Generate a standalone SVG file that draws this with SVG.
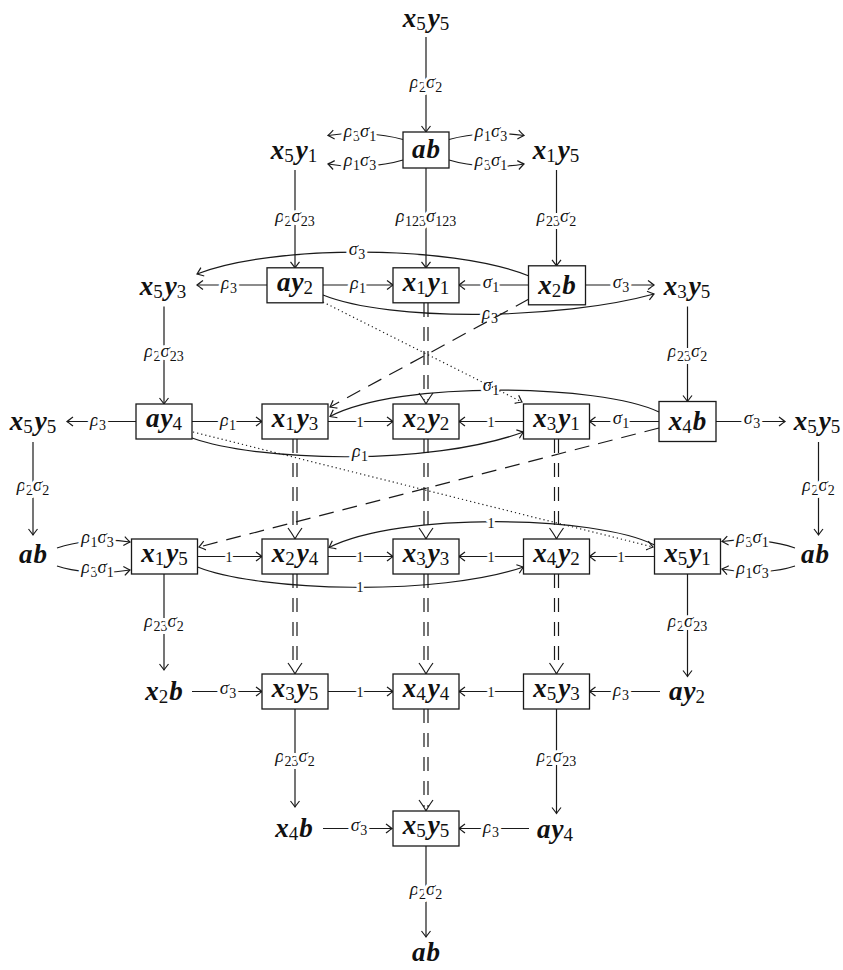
<svg xmlns="http://www.w3.org/2000/svg" xmlns:xlink="http://www.w3.org/1999/xlink" width="843" height="970" viewBox="0 0 843 970">
<style>
.nd{font-family:"Liberation Serif","DejaVu Serif",serif;font-size:27px;font-weight:bold;font-style:italic;fill:#111;text-anchor:middle}
.nd .s{font-size:19px;font-weight:normal;font-style:normal}
.bx{fill:#fff;stroke:#1a1a1a;stroke-width:1.3}
.e{fill:none;stroke:#1a1a1a;stroke-width:1.2}
.a{marker-end:url(#h)}
.dash{stroke-dasharray:15 9}
.dot{stroke-dasharray:1.2 3}
.dd{stroke-dasharray:14 10}
.lb{font-family:"Liberation Serif","DejaVu Serif",serif;font-size:19px;font-style:italic;fill:#111;text-anchor:middle;stroke:#fff;stroke-width:6px;stroke-linejoin:round;paint-order:stroke}
.lb .s{font-size:14px;font-style:normal}
.lb.one{font-size:14px;font-style:normal}
</style>
<defs>
<marker id="h" viewBox="-8 -6 9 12" refX="0" refY="0" markerWidth="9" markerHeight="12" markerUnits="userSpaceOnUse" orient="auto" overflow="visible">
<path d="M-6,-4.5 Q-1.5,-1 0,0 Q-1.5,1 -6,4.5" fill="none" stroke="#1a1a1a" stroke-width="1.2"/>
</marker>
<path id="dh" d="M-7,-11 Q-2,-4 0,0 Q2,-4 7,-11" fill="none" stroke="#1a1a1a" stroke-width="1.2"/>
</defs>
<rect width="843" height="970" fill="#fff"/>

<g id="connectors">
  <!-- vertical solid arrows -->
  <g>
    <path class="e a" d="M426,37 V132"/>
    <text class="lb" x="426" y="88">ρ<tspan class="s" dy="4">2</tspan><tspan dy="-4">σ</tspan><tspan class="s" dy="4">2</tspan></text>
  </g>
  <g>
    <path class="e a" d="M295,170 V267.8"/>
    <text class="lb" x="295" y="222">ρ<tspan class="s" dy="4">2</tspan><tspan dy="-4">σ</tspan><tspan class="s" dy="4">23</tspan></text>
  </g>
  <g>
    <path class="e a" d="M426,168 V267.8"/>
    <text class="lb" x="426" y="222">ρ<tspan class="s" dy="4">123</tspan><tspan dy="-4">σ</tspan><tspan class="s" dy="4">123</tspan></text>
  </g>
  <g>
    <path class="e a" d="M556.5,170 V265.8"/>
    <text class="lb" x="556.5" y="222">ρ<tspan class="s" dy="4">23</tspan><tspan dy="-4">σ</tspan><tspan class="s" dy="4">2</tspan></text>
  </g>
  <g>
    <path class="e a" d="M164,306.5 V404"/>
    <text class="lb" x="164" y="357">ρ<tspan class="s" dy="4">2</tspan><tspan dy="-4">σ</tspan><tspan class="s" dy="4">23</tspan></text>
  </g>
  <g>
    <path class="e a" d="M687.5,306.5 V401.5"/>
    <text class="lb" x="687.5" y="357">ρ<tspan class="s" dy="4">23</tspan><tspan dy="-4">σ</tspan><tspan class="s" dy="4">2</tspan></text>
  </g>
  <g>
    <path class="e a" d="M33,442 V535"/>
    <text class="lb" x="33" y="491">ρ<tspan class="s" dy="4">2</tspan><tspan dy="-4">σ</tspan><tspan class="s" dy="4">2</tspan></text>
  </g>
  <g>
    <path class="e a" d="M818.5,442 V535"/>
    <text class="lb" x="818.5" y="491">ρ<tspan class="s" dy="4">2</tspan><tspan dy="-4">σ</tspan><tspan class="s" dy="4">2</tspan></text>
  </g>
  <g>
    <path class="e a" d="M164,574 V670"/>
    <text class="lb" x="164" y="627">ρ<tspan class="s" dy="4">23</tspan><tspan dy="-4">σ</tspan><tspan class="s" dy="4">2</tspan></text>
  </g>
  <g>
    <path class="e a" d="M687.5,574 V676.5"/>
    <text class="lb" x="687.5" y="627">ρ<tspan class="s" dy="4">2</tspan><tspan dy="-4">σ</tspan><tspan class="s" dy="4">23</tspan></text>
  </g>
  <g>
    <path class="e a" d="M295,709 V807"/>
    <text class="lb" x="295" y="762">ρ<tspan class="s" dy="4">23</tspan><tspan dy="-4">σ</tspan><tspan class="s" dy="4">2</tspan></text>
  </g>
  <g>
    <path class="e a" d="M556.5,709 V813.5"/>
    <text class="lb" x="556.5" y="762">ρ<tspan class="s" dy="4">2</tspan><tspan dy="-4">σ</tspan><tspan class="s" dy="4">23</tspan></text>
  </g>
  <g>
    <path class="e a" d="M426,846 V937"/>
    <text class="lb" x="426" y="895">ρ<tspan class="s" dy="4">2</tspan><tspan dy="-4">σ</tspan><tspan class="s" dy="4">2</tspan></text>
  </g>

  <!-- short bent arrows out of the two ab nodes -->
  <g>
    <path class="e a" d="M403,139.5 C380,133 350,132 328,135.5"/>
    <text class="lb" x="360" y="136.5">ρ<tspan class="s" dy="4">3</tspan><tspan dy="-4">σ</tspan><tspan class="s" dy="4">1</tspan></text>
    <path class="e a" d="M403,160 C380,167 350,168 328,164"/>
    <text class="lb" x="360" y="165.5">ρ<tspan class="s" dy="4">1</tspan><tspan dy="-4">σ</tspan><tspan class="s" dy="4">3</tspan></text>
    <path class="e a" d="M449,139.5 C472,133 502,132 524,135.5"/>
    <text class="lb" x="491" y="136.5">ρ<tspan class="s" dy="4">1</tspan><tspan dy="-4">σ</tspan><tspan class="s" dy="4">3</tspan></text>
    <path class="e a" d="M449,160 C472,167 502,168 524,164"/>
    <text class="lb" x="491" y="165.5">ρ<tspan class="s" dy="4">3</tspan><tspan dy="-4">σ</tspan><tspan class="s" dy="4">1</tspan></text>
  </g>
  <g>
    <path class="e a" d="M57,548 C72,543 100,537 130,542"/>
    <text class="lb" x="97.5" y="543">ρ<tspan class="s" dy="4">1</tspan><tspan dy="-4">σ</tspan><tspan class="s" dy="4">3</tspan></text>
    <path class="e a" d="M57,566 C72,571 100,575 130,570"/>
    <text class="lb" x="97.5" y="573">ρ<tspan class="s" dy="4">3</tspan><tspan dy="-4">σ</tspan><tspan class="s" dy="4">1</tspan></text>
    <path class="e a" d="M795,548 C780,543 752,537 722,541.5"/>
    <text class="lb" x="752.5" y="543">ρ<tspan class="s" dy="4">3</tspan><tspan dy="-4">σ</tspan><tspan class="s" dy="4">1</tspan></text>
    <path class="e a" d="M795,566 C780,571 752,575 722,569"/>
    <text class="lb" x="752.5" y="574">ρ<tspan class="s" dy="4">1</tspan><tspan dy="-4">σ</tspan><tspan class="s" dy="4">3</tspan></text>
  </g>

  <!-- horizontal arrows, row by row -->
  <g>
    <path class="e a" d="M267,285 H197"/>
    <text class="lb" x="229" y="289">ρ<tspan class="s" dy="4">3</tspan></text>
    <path class="e a" d="M323,285 H393"/>
    <text class="lb" x="358" y="289">ρ<tspan class="s" dy="4">1</tspan></text>
    <path class="e a" d="M528.5,285 H459"/>
    <text class="lb" x="491" y="287.5">σ<tspan class="s" dy="4">1</tspan></text>
    <path class="e a" d="M585.5,285 H654"/>
    <text class="lb" x="621" y="287.5">σ<tspan class="s" dy="4">3</tspan></text>
  </g>
  <g>
    <path class="e a" d="M136,421.5 H67"/>
    <text class="lb" x="98" y="425.5">ρ<tspan class="s" dy="4">3</tspan></text>
    <path class="e a" d="M192,421.5 H262"/>
    <text class="lb" x="228" y="425.5">ρ<tspan class="s" dy="4">1</tspan></text>
    <path class="e a" d="M328,421.5 H393"/>
    <text class="lb one" x="360" y="426.5">1</text>
    <path class="e a" d="M523.5,421.5 H459"/>
    <text class="lb one" x="491" y="426.5">1</text>
    <path class="e a" d="M659,421.5 H589.5"/>
    <text class="lb" x="621" y="424">σ<tspan class="s" dy="4">1</tspan></text>
    <path class="e a" d="M716,421.5 H785"/>
    <text class="lb" x="752" y="424">σ<tspan class="s" dy="4">3</tspan></text>
  </g>
  <g>
    <path class="e a" d="M197.5,556.5 H262"/>
    <text class="lb one" x="229" y="561.5">1</text>
    <path class="e a" d="M328,556.5 H393"/>
    <text class="lb one" x="360" y="561.5">1</text>
    <path class="e a" d="M523.5,556.5 H459"/>
    <text class="lb one" x="491" y="561.5">1</text>
    <path class="e a" d="M654.5,556.5 H589.5"/>
    <text class="lb one" x="621" y="561.5">1</text>
  </g>
  <g>
    <path class="e a" d="M192,691.5 H262"/>
    <text class="lb" x="228" y="694">σ<tspan class="s" dy="4">3</tspan></text>
    <path class="e a" d="M328,691.5 H393"/>
    <text class="lb one" x="360" y="696.5">1</text>
    <path class="e a" d="M523.5,691.5 H459"/>
    <text class="lb one" x="491" y="696.5">1</text>
    <path class="e a" d="M660,691.5 H589.5"/>
    <text class="lb" x="621" y="695.5">ρ<tspan class="s" dy="4">3</tspan></text>
  </g>
  <g>
    <path class="e a" d="M323,828.5 H392"/>
    <text class="lb" x="359" y="831">σ<tspan class="s" dy="4">3</tspan></text>
    <path class="e a" d="M529,828.5 H459"/>
    <text class="lb" x="491" y="832.5">ρ<tspan class="s" dy="4">3</tspan></text>
  </g>

  <!-- long bent arrows -->
  <g>
    <path class="e a" d="M529,276 C450,244 270,245 197,274"/>
    <text class="lb" x="357" y="255">σ<tspan class="s" dy="4">3</tspan></text>
  </g>
  <g>
    <path class="e a" d="M323,295 C390,322 560,320 654,294"/>
    <text class="lb" x="490" y="319">ρ<tspan class="s" dy="4">3</tspan></text>
  </g>
  <g>
    <path class="e a" d="M659,412 C600,384 400,380 330,416.5"/>
    <text class="lb" x="491" y="391">σ<tspan class="s" dy="4">1</tspan></text>
  </g>
  <g>
    <path class="e a" d="M192,438 C260,462 430,466 523.5,432"/>
    <text class="lb" x="360" y="457">ρ<tspan class="s" dy="4">1</tspan></text>
  </g>
  <g>
    <path class="e a" d="M654.5,545 C595,515 400,512 329,547.5"/>
    <text class="lb one" x="491" y="528">1</text>
  </g>
  <g>
    <path class="e a" d="M197.5,567 C260,592 440,596 523.5,567"/>
    <text class="lb one" x="360" y="592">1</text>
  </g>

  <!-- double dashed arrows -->
  <g>
    <path class="e dd" d="M424,303 V400 M428,303 V400"/><use xlink:href="#dh" x="426" y="404"/>
    <path class="e dd" d="M293,439 V535 M297,439 V535"/><use xlink:href="#dh" x="295" y="539"/>
    <path class="e dd" d="M424,439 V535 M428,439 V535"/><use xlink:href="#dh" x="426" y="539"/>
    <path class="e dd" d="M554.5,439 V535 M558.5,439 V535"/><use xlink:href="#dh" x="556.5" y="539"/>
    <path class="e dd" d="M293,574 V670 M297,574 V670"/><use xlink:href="#dh" x="295" y="674"/>
    <path class="e dd" d="M424,574 V670 M428,574 V670"/><use xlink:href="#dh" x="426" y="674"/>
    <path class="e dd" d="M554.5,574 V670 M558.5,574 V670"/><use xlink:href="#dh" x="556.5" y="674"/>
    <path class="e dd" d="M424,709 V807 M428,709 V807"/><use xlink:href="#dh" x="426" y="811"/>
  </g>

  <!-- dashed and dotted diagonals -->
  <g>
    <path class="e a dash" d="M529,299 L330,407"/>
    <path class="e a dash" d="M659,428 L199,547"/>
    <path class="e a dot" d="M323,302 L522,402"/>
    <path class="e a dot" d="M193,432 L653,547"/>
  </g>
</g>

<!-- nodes -->
<g id="n-x5y5-top"><text class="nd" x="426" y="27">x<tspan class="s" dy="3">5</tspan><tspan dy="-3" dx="2">y</tspan><tspan class="s" dy="3">5</tspan></text></g>

<g id="n-x5y1-r1"><text class="nd" x="294" y="158.5">x<tspan class="s" dy="3">5</tspan><tspan dy="-3" dx="2">y</tspan><tspan class="s" dy="3">1</tspan></text></g>
<g id="n-ab-r1"><rect class="bx" x="403" y="132" width="46" height="36"/><text class="nd" x="426" y="158">a<tspan dx="1">b</tspan></text></g>
<g id="n-x1y5-r1"><text class="nd" x="556" y="158.5">x<tspan class="s" dy="3">1</tspan><tspan dy="-3" dx="2">y</tspan><tspan class="s" dy="3">5</tspan></text></g>

<g id="n-x5y3-r2"><text class="nd" x="163" y="295">x<tspan class="s" dy="3">5</tspan><tspan dy="-3" dx="2">y</tspan><tspan class="s" dy="3">3</tspan></text></g>
<g id="n-ay2-r2"><rect class="bx" x="267" y="267.8" width="56" height="35"/><text class="nd" x="295" y="291">a<tspan dx="1">y</tspan><tspan class="s" dy="3">2</tspan></text></g>
<g id="n-x1y1"><rect class="bx" x="393" y="267.8" width="66" height="35"/><text class="nd" x="426" y="291">x<tspan class="s" dy="3">1</tspan><tspan dy="-3" dx="2">y</tspan><tspan class="s" dy="3">1</tspan></text></g>
<g id="n-x2b-r2"><rect class="bx" x="528.5" y="265.8" width="57" height="39"/><text class="nd" x="557" y="293.5">x<tspan class="s" dy="3">2</tspan><tspan dy="-3" dx="1">b</tspan></text></g>
<g id="n-x3y5-r2"><text class="nd" x="687" y="295">x<tspan class="s" dy="3">3</tspan><tspan dy="-3" dx="2">y</tspan><tspan class="s" dy="3">5</tspan></text></g>

<g id="n-x5y5-left"><text class="nd" x="33" y="430">x<tspan class="s" dy="3">5</tspan><tspan dy="-3" dx="2">y</tspan><tspan class="s" dy="3">5</tspan></text></g>
<g id="n-ay4-r3"><rect class="bx" x="136" y="404" width="56" height="35"/><text class="nd" x="164" y="427">a<tspan dx="1">y</tspan><tspan class="s" dy="3">4</tspan></text></g>
<g id="n-x1y3"><rect class="bx" x="262" y="404" width="66" height="35"/><text class="nd" x="295" y="427">x<tspan class="s" dy="3">1</tspan><tspan dy="-3" dx="2">y</tspan><tspan class="s" dy="3">3</tspan></text></g>
<g id="n-x2y2"><rect class="bx" x="393" y="404" width="66" height="35"/><text class="nd" x="426" y="427">x<tspan class="s" dy="3">2</tspan><tspan dy="-3" dx="2">y</tspan><tspan class="s" dy="3">2</tspan></text></g>
<g id="n-x3y1"><rect class="bx" x="523.5" y="404" width="66" height="35"/><text class="nd" x="556.5" y="427">x<tspan class="s" dy="3">3</tspan><tspan dy="-3" dx="2">y</tspan><tspan class="s" dy="3">1</tspan></text></g>
<g id="n-x4b-r3"><rect class="bx" x="659" y="401.5" width="57" height="40"/><text class="nd" x="687.5" y="429.5">x<tspan class="s" dy="3">4</tspan><tspan dy="-3" dx="1">b</tspan></text></g>
<g id="n-x5y5-right"><text class="nd" x="817" y="430">x<tspan class="s" dy="3">5</tspan><tspan dy="-3" dx="2">y</tspan><tspan class="s" dy="3">5</tspan></text></g>

<g id="n-ab-left"><text class="nd" x="33" y="563">a<tspan dx="1">b</tspan></text></g>
<g id="n-x1y5-r4"><rect class="bx" x="131.5" y="539" width="66" height="35"/><text class="nd" x="164.5" y="562">x<tspan class="s" dy="3">1</tspan><tspan dy="-3" dx="2">y</tspan><tspan class="s" dy="3">5</tspan></text></g>
<g id="n-x2y4"><rect class="bx" x="262" y="539" width="66" height="35"/><text class="nd" x="295" y="562">x<tspan class="s" dy="3">2</tspan><tspan dy="-3" dx="2">y</tspan><tspan class="s" dy="3">4</tspan></text></g>
<g id="n-x3y3"><rect class="bx" x="393" y="539" width="66" height="35"/><text class="nd" x="426" y="562">x<tspan class="s" dy="3">3</tspan><tspan dy="-3" dx="2">y</tspan><tspan class="s" dy="3">3</tspan></text></g>
<g id="n-x4y2"><rect class="bx" x="523.5" y="539" width="66" height="35"/><text class="nd" x="556.5" y="562">x<tspan class="s" dy="3">4</tspan><tspan dy="-3" dx="2">y</tspan><tspan class="s" dy="3">2</tspan></text></g>
<g id="n-x5y1-r4"><rect class="bx" x="654.5" y="539" width="66" height="35"/><text class="nd" x="687.5" y="562">x<tspan class="s" dy="3">5</tspan><tspan dy="-3" dx="2">y</tspan><tspan class="s" dy="3">1</tspan></text></g>
<g id="n-ab-right"><text class="nd" x="815" y="563">a<tspan dx="1">b</tspan></text></g>

<g id="n-x2b-r5"><text class="nd" x="164" y="700">x<tspan class="s" dy="3">2</tspan><tspan dy="-3" dx="1">b</tspan></text></g>
<g id="n-x3y5-r5"><rect class="bx" x="262" y="674" width="66" height="35"/><text class="nd" x="295" y="697">x<tspan class="s" dy="3">3</tspan><tspan dy="-3" dx="2">y</tspan><tspan class="s" dy="3">5</tspan></text></g>
<g id="n-x4y4"><rect class="bx" x="393" y="674" width="66" height="35"/><text class="nd" x="426" y="697">x<tspan class="s" dy="3">4</tspan><tspan dy="-3" dx="2">y</tspan><tspan class="s" dy="3">4</tspan></text></g>
<g id="n-x5y3-r5"><rect class="bx" x="523.5" y="674" width="66" height="35"/><text class="nd" x="556.5" y="697">x<tspan class="s" dy="3">5</tspan><tspan dy="-3" dx="2">y</tspan><tspan class="s" dy="3">3</tspan></text></g>
<g id="n-ay2-r5"><text class="nd" x="687" y="700">a<tspan dx="1">y</tspan><tspan class="s" dy="3">2</tspan></text></g>

<g id="n-x4b-r6"><text class="nd" x="294" y="837">x<tspan class="s" dy="3">4</tspan><tspan dy="-3" dx="1">b</tspan></text></g>
<g id="n-x5y5-r6"><rect class="bx" x="393" y="811" width="66" height="35"/><text class="nd" x="426" y="834">x<tspan class="s" dy="3">5</tspan><tspan dy="-3" dx="2">y</tspan><tspan class="s" dy="3">5</tspan></text></g>
<g id="n-ay4-r6"><text class="nd" x="555" y="838">a<tspan dx="1">y</tspan><tspan class="s" dy="3">4</tspan></text></g>

<g id="n-ab-bottom"><text class="nd" x="426" y="961">a<tspan dx="1">b</tspan></text></g>
</svg>
